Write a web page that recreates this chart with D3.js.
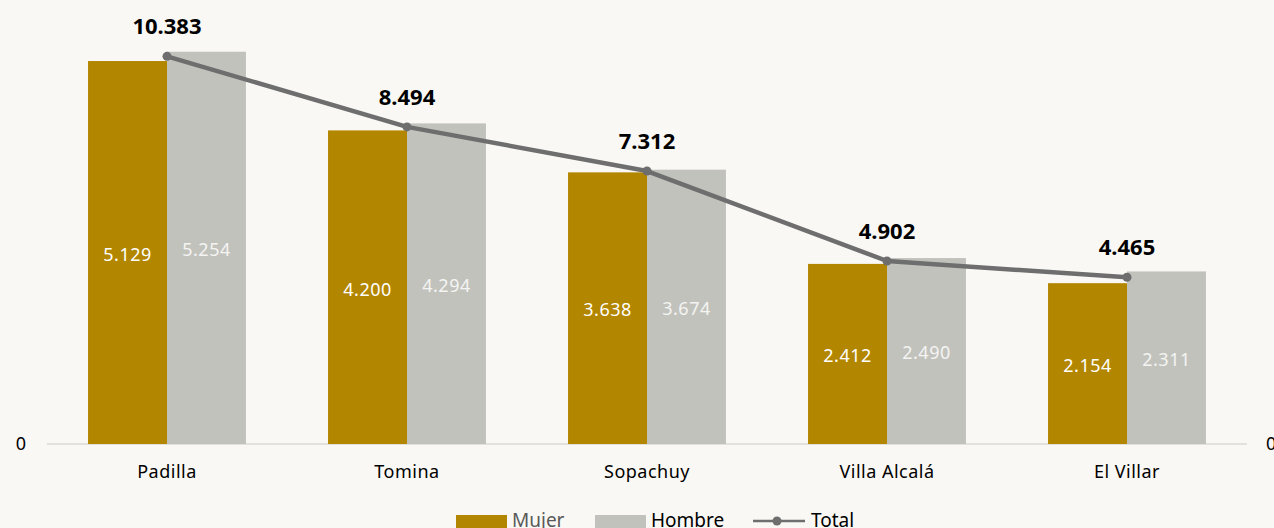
<!DOCTYPE html>
<html>
<head>
<meta charset="utf-8">
<script src="https://cdn.jsdelivr.net/npm/d3@7"></script>
<style>
  body { margin: 0; background: #f9f8f4; }
  svg { display: block; }
</style>
</head>
<body>
<div id="chart"></div>
<script>
// data
let categories = ['Padilla', 'Tomina', 'Sopachuy', 'Villa Alcalá', 'El Villar']
let mujer = [5129, 4200, 3638, 2412, 2154]
let hombre = [5254, 4294, 3674, 2490, 2311]
let total = [10383, 8494, 7312, 4902, 4465]

let width = 1274
let height = 528
let font = '"Noto Sans", "Open Sans", sans-serif'

let es = d3.formatLocale({decimal: ',', thousands: '.', grouping: [3], currency: ['', '']})
let fmtNum = es.format(',')

const svg = d3.select('#chart')
	.append('svg')
	.attr('width', width)
	.attr('height', height)
	.style('background', '#f9f8f4')

let x = d3.scaleBand()
	.domain(categories)
	.range([47, 1247])
	.paddingInner(0.342)
	.paddingOuter(0.171)

let xSub = d3.scaleBand()
	.domain(['mujer', 'hombre'])
	.range([0, x.bandwidth()])

let y = d3.scaleLinear()
	.domain([0, 6000])
	.range([444, -4])

let y2 = d3.scaleLinear()
	.domain([0, 12000])
	.range([444, -4])

// baseline
svg.append('line')
	.attr('x1', 47).attr('x2', 1247)
	.attr('y1', y(0)).attr('y2', y(0))
	.attr('stroke', '#e2e1dc')
	.attr('stroke-width', 2)

let rows = categories.map((c, i) => ({cat: c, mujer: mujer[i], hombre: hombre[i], total: total[i]}))

let groups = svg.selectAll('.grp')
	.data(rows)
	.enter()
	.append('g')
	.attr('transform', d => `translate(${x(d.cat)},0)`)

groups.append('rect')
	.attr('fill', '#b38600')
	.attr('x', xSub('mujer'))
	.attr('y', d => y(d.mujer))
	.attr('width', xSub.bandwidth())
	.attr('height', d => y(0) - y(d.mujer))

groups.append('rect')
	.attr('fill', '#c2c2bd')
	.attr('x', xSub('hombre'))
	.attr('y', d => y(d.hombre))
	.attr('width', xSub.bandwidth())
	.attr('height', d => y(0) - y(d.hombre))

groups.append('text')
	.attr('x', xSub('mujer') + xSub.bandwidth() / 2)
	.attr('y', d => (y(d.mujer) + y(0)) / 2 + 2)
	.attr('dy', '0.35em')
	.attr('text-anchor', 'middle')
	.attr('fill', '#ffffff')
	.style('font-family', font)
	.style('font-size', '18px')
	.style('letter-spacing', '0.5px')
	.text(d => fmtNum(d.mujer))

groups.append('text')
	.attr('x', xSub('hombre') + xSub.bandwidth() / 2)
	.attr('y', d => (y(d.hombre) + y(0)) / 2 + 2)
	.attr('dy', '0.35em')
	.attr('text-anchor', 'middle')
	.attr('fill', '#f4f4f2')
	.style('font-family', font)
	.style('font-size', '18px')
	.style('letter-spacing', '0.5px')
	.text(d => fmtNum(d.hombre))

// total line on the secondary axis
let cx = d => x(d.cat) + x.bandwidth() / 2

let line = d3.line()
	.x(d => cx(d))
	.y(d => y2(d.total))

svg.append('path')
	.datum(rows)
	.attr('d', line)
	.attr('fill', 'none')
	.attr('stroke', '#6e6e6e')
	.attr('stroke-width', 4.5)
	.attr('stroke-linejoin', 'round')

svg.selectAll('.dot')
	.data(rows)
	.enter()
	.append('circle')
	.attr('cx', cx)
	.attr('cy', d => y2(d.total))
	.attr('r', 4.5)
	.attr('fill', '#6e6e6e')

svg.selectAll('.tlabel')
	.data(rows)
	.enter()
	.append('text')
	.attr('x', cx)
	.attr('y', d => y2(d.total) - 22)
	.attr('text-anchor', 'middle')
	.attr('fill', '#000')
	.style('font-family', font)
	.style('font-size', '22px')
	.style('font-weight', 'bold')
	.text(d => fmtNum(d.total))

// category axis
let xAxis = g => g
	.attr('transform', `translate(0,${y(0)})`)
	.call(d3.axisBottom(x).tickSize(0).tickPadding(21))
	.call(g => g.select('.domain').remove())
	.call(g => g.selectAll('text')
		.attr('fill', '#000')
		.style('font-family', font)
		.style('font-size', '18px')
		.style('letter-spacing', '0.5px'))

svg.append('g').call(xAxis)

// value axes, only the zero tick shows
let yAxis = g => g
	.attr('transform', 'translate(26,0)')
	.call(d3.axisLeft(y).tickValues([0]).tickSize(0).tickPadding(0))
	.call(g => g.select('.domain').remove())
	.call(g => g.selectAll('text')
		.attr('fill', '#000')
		.style('font-family', font)
		.style('font-size', '18px'))

let yAxis2 = g => g
	.attr('transform', 'translate(1266,0)')
	.call(d3.axisRight(y2).tickValues([0]).tickSize(0).tickPadding(0))
	.call(g => g.select('.domain').remove())
	.call(g => g.selectAll('text')
		.attr('fill', '#000')
		.style('font-family', font)
		.style('font-size', '18px'))

svg.append('g').call(yAxis)
svg.append('g').call(yAxis2)

// legend
let legend = svg.append('g').attr('transform', 'translate(0,515)')

legend.append('rect').attr('x', 456).attr('y', 0).attr('width', 51).attr('height', 16).attr('fill', '#b38600')
legend.append('text').attr('x', 512).attr('y', 12).text('Mujer')
	.attr('fill', '#595959')
legend.append('rect').attr('x', 595).attr('y', 0).attr('width', 51).attr('height', 16).attr('fill', '#c2c2bd')
legend.append('text').attr('x', 651).attr('y', 12).text('Hombre')
	.attr('fill', '#000')
legend.append('line').attr('x1', 753).attr('x2', 805).attr('y1', 6).attr('y2', 6)
	.attr('stroke', '#6e6e6e').attr('stroke-width', 2.5)
legend.append('circle').attr('cx', 777).attr('cy', 6).attr('r', 4.5).attr('fill', '#6e6e6e')
legend.append('text').attr('x', 811).attr('y', 12).text('Total')
	.attr('fill', '#000')

legend.selectAll('text')
	.style('font-family', font)
	.style('font-size', '19px')
</script>
</body>
</html>
